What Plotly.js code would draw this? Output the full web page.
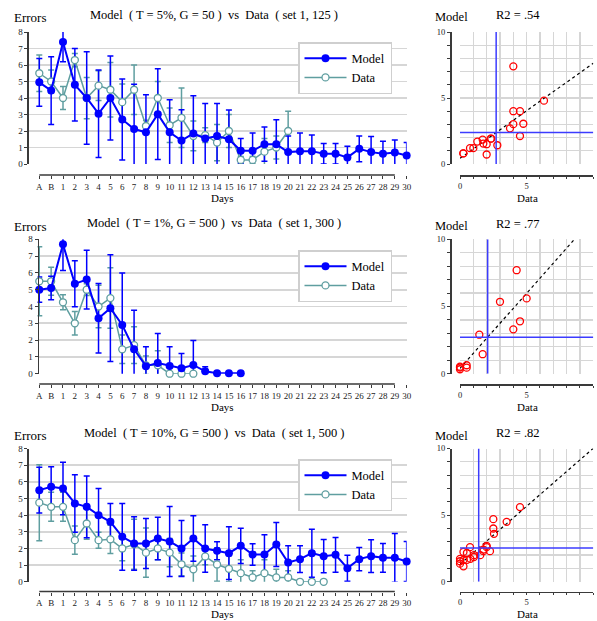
<!DOCTYPE html>
<html><head><meta charset="utf-8">
<script src="https://cdn.plot.ly/plotly-3.0.1.min.js"></script>
<style>html,body{margin:0;padding:0;background:#fff;}#chart{width:597px;height:621px;}</style>
</head><body><div id="chart"></div>
<script>
// ---------------- DATA ----------------
const days = ['A','B','1','2','3','4','5','6','7','8','9','10','11','12','13','14','15','16','17','18','19','20','21','22','23','24','25','26','27','28','29','30'];

const titles = [
  'Model\u00a0\u00a0( T = 5%, G = 50 )\u00a0\u00a0vs\u00a0\u00a0Data\u00a0\u00a0( set 1, 125 )',
  'Model\u00a0\u00a0( T = 1%, G = 500 )\u00a0\u00a0vs\u00a0\u00a0Data\u00a0\u00a0( set 1, 300 )',
  'Model\u00a0\u00a0( T = 10%, G = 500 )\u00a0\u00a0vs\u00a0\u00a0Data\u00a0\u00a0( set 1, 500 )'
];
const r2Labels = ['R2 = .54', 'R2 = .77', 'R2 = .82'];

// Panel 1
const model1    = [4.95,4.45,7.4,4.8,4.0,3.05,4.0,2.7,2.12,1.92,3.02,1.92,1.42,1.85,1.55,1.7,1.5,0.8,0.8,1.2,1.2,0.72,0.78,0.78,0.62,0.62,0.4,0.92,0.72,0.62,0.7,0.52];
const model1Err = [1.45,2.05,1.2,2.2,2.8,2.65,2.55,2.45,2.72,2.28,2.75,1.98,1.87,2.28,2.12,1.96,1.78,0.74,1.08,1.04,1.48,0.98,1.1,0.98,0.62,0.62,0.68,0.78,0.94,0.76,0.76,0.78];
const data1     = [5.5,5.0,4.0,6.3,4.0,4.75,4.5,3.75,4.5,2.3,4.0,2.35,2.8,1.7,1.75,1.3,2.0,0.25,0.25,0.75,1.0,2.0];
const data1Err  = [1.1,0.7,0.7,0.4,1.25,0.9,1.65,1.1,1.5,0.35,1.0,1.05,1.8,0.9,0.45,1.1,1.0,0.2,0.2,0.8,0.7,1.2];

// Panel 2
const model2    = [5.0,5.1,7.7,5.35,5.6,3.3,3.9,2.9,1.45,0.45,0.63,0.46,0.33,0.52,0.14,0.02,0.02,0.02];
const model2Err = [0.75,0.7,1.55,1.37,1.75,2.07,3.18,3.1,2.32,1.15,1.77,1.15,0.87,1.45,0.27,0,0,0];
const data2     = [5.5,5.5,4.25,3.0,5.0,4.0,4.5,1.45,1.7,0.5,0.5,0,0,0];
const data2Err  = [2.05,0.83,0.45,0.7,0.35,1.26,1.8,0.85,1.1,0.55,0.87,0,0,0];

// Panel 3
const model3    = [5.5,5.7,5.6,4.7,4.5,4.0,3.6,2.7,2.3,2.3,2.6,2.42,2.0,2.6,2.0,1.86,1.72,2.16,1.64,1.64,2.24,1.16,1.36,1.72,1.54,1.62,0.82,1.36,1.54,1.44,1.44,1.22];
const model3Err = [1.37,1.2,1.58,1.72,1.85,1.6,1.1,2.0,1.6,1.5,1.28,2.1,1.68,1.37,1.42,0.54,1.58,1.06,0.64,1.18,1.32,1.0,0.8,1.44,1.0,1.04,0.78,0.7,0.98,0.86,1.46,1.2];
const data3     = [4.75,4.5,4.5,2.5,3.5,2.5,2.55,2.0,2.25,1.75,2.0,1.75,1.05,0.75,1.52,1.04,0.78,0.52,0.26,0.52,0.26,0.26,0,0,0];
const data3Err  = [2.28,0.87,0.87,0.85,0.95,0.48,0.85,0.74,1.5,1.48,0.67,0.85,0.68,0.8,0.5,1.0,0.78,0.8,0.4,0.8,0.5,0.4,0,0,0];

const yTicks = [0,1,2,3,4,5,6,7,8];
const sTicks = [0,1,2,3,4,5,6,7,8,9,10];
const sTickText = ['0','','','','','5','','','','','10'];

// ---------------- STYLE / GEOMETRY ----------------
const BLUE='#0000ff', TEAL='#5f9ea0', RED='#ff0000', GRID='#d6d6d6', AXIS='#3a3a3a', MEAN='#3c3cff';
const FONT='"Liberation Serif", "Times New Roman", Times, serif';
const W=597, H=621;
const px=v=>v/W, py=v=>1-v/H;
const geo=[
  {top:32,    bottom:164,   xline:175,   yaxisX:27.45, r0:-1,    titleY:14.7, labelY:17,  sTitleY:15,  sModelY:17,  legendTop:42,  axisTitleY:197.5},
  {top:239.3, bottom:373.7, xline:384,   yaxisX:37.5,  r0:-0.15, titleY:223,  labelY:226, sTitleY:224, sModelY:226, legendTop:250, axisTitleY:406.5},
  {top:448.5, bottom:581.8, xline:591.6, yaxisX:27.45, r0:-1,    titleY:433,  labelY:435, sTitleY:433, sModelY:436, legendTop:459, axisTitleY:614}
];
const panels=[
  {model:model1, modelErr:model1Err, data:data1, dataErr:data1Err},
  {model:model2, modelErr:model2Err, data:data2, dataErr:data2Err},
  {model:model3, modelErr:model3Err, data:data3, dataErr:data3Err}
];

const mean=a=>a.reduce((s,v)=>s+v,0)/a.length;
function ols(xs,ys){
  const mx=mean(xs), my=mean(ys);
  let sxy=0,sxx=0;
  for(let i=0;i<xs.length;i++){sxy+=(xs[i]-mx)*(ys[i]-my);sxx+=(xs[i]-mx)*(xs[i]-mx);}
  const m=sxy/sxx; return {m:m,b:my-m*mx};
}

const traces=[], shapes=[], annotations=[];
const tickFont={family:FONT,size:9,color:'#222',weight:'normal'};
const sTickFont={family:FONT,size:8.5,color:'#222',weight:'normal'};
const txtFont=(s)=>({family:FONT,size:s,color:'#000',weight:'normal'});
const layout={
  width:W,height:H,margin:{l:0,r:0,t:0,b:0},
  paper_bgcolor:'#fff',plot_bgcolor:'rgba(0,0,0,0)',
  hovermode:false,showlegend:true,
  font:{family:FONT,weight:'normal'}
};

panels.forEach((p,k)=>{
  const g=geo[k];
  const ln=2*k+1, sc=2*k+2;
  const sfx=ln===1?'':String(ln);
  const xl='x'+sfx, yl='y'+sfx, xs='x'+sc, ys='y'+sc;
  const leg=k===0?'legend':'legend'+(k+1);
  const dDays=days.slice(0,p.data.length), mDays=days.slice(0,p.model.length);

  traces.push({type:'scatter',x:dDays,y:p.data,xaxis:xl,yaxis:yl,mode:'markers',marker:{size:2,opacity:0},
    error_y:{type:'data',array:p.dataErr,visible:true,color:TEAL,thickness:1.5,width:3},showlegend:false,hoverinfo:'skip'});
  traces.push({type:'scatter',x:mDays,y:p.model,xaxis:xl,yaxis:yl,mode:'markers',marker:{size:2,opacity:0},
    error_y:{type:'data',array:p.modelErr,visible:true,color:BLUE,thickness:1.5,width:3},showlegend:false,hoverinfo:'skip'});
  traces.push({type:'scatter',name:'Data',legend:leg,legendrank:2,x:dDays,y:p.data,xaxis:xl,yaxis:yl,mode:'lines+markers',
    line:{color:TEAL,width:1.5},marker:{symbol:'circle',size:7,color:'#fff',line:{color:TEAL,width:1.3}},cliponaxis:false});
  traces.push({type:'scatter',name:'Model',legend:leg,legendrank:1,x:mDays,y:p.model,xaxis:xl,yaxis:yl,mode:'lines+markers',
    line:{color:BLUE,width:2},marker:{symbol:'circle',size:8,color:BLUE},cliponaxis:false});

  // scatter: model vs data for days 1.. (excluding A, B)
  const sx=p.data.slice(2), sy=p.model.slice(2,p.data.length);
  const fit=ols(sx,sy);
  const xEnd=Math.min(10,(10-fit.b)/fit.m);
  traces.push({type:'scatter',x:[0,xEnd],y:[fit.b,fit.b+fit.m*xEnd],xaxis:xs,yaxis:ys,mode:'lines',
    line:{color:'#000',width:1.2,dash:'3px,3px'},showlegend:false,hoverinfo:'skip'});
  traces.push({type:'scatter',x:sx,y:sy,xaxis:xs,yaxis:ys,mode:'markers',
    marker:{symbol:'circle-open',size:7,color:RED,line:{width:1.3,color:RED}},showlegend:false,cliponaxis:false});
  const mx=mean(sx), my=mean(sy);
  shapes.push({type:'line',xref:xs,yref:ys,x0:mx,x1:mx,y0:0,y1:10,line:{color:MEAN,width:1.5}});
  shapes.push({type:'line',xref:xs,yref:ys,x0:0,x1:10,y0:my,y1:my,line:{color:MEAN,width:1.5}});

  // axes: line chart
  layout['xaxis'+sfx]={type:'category',categoryorder:'array',categoryarray:days,
    domain:[px(g.yaxisX),px(406.65)],range:[g.r0,31],anchor:'free',position:py(g.xline),
    showline:false,showgrid:false,zeroline:false,tickmode:'array',tickvals:days,ticktext:days,tickangle:0,
    ticks:'outside',ticklen:3,tickwidth:1,tickcolor:AXIS,tickfont:tickFont,fixedrange:true};
  layout['yaxis'+sfx]={domain:[py(g.bottom),py(g.top)],range:[0,8],anchor:'free',position:px(g.yaxisX),
    tickmode:'array',tickvals:yTicks,showline:true,linecolor:AXIS,linewidth:1.5,ticks:'outside',ticklen:3,tickcolor:AXIS,
    showgrid:true,gridcolor:GRID,gridwidth:1.6,zeroline:false,tickfont:tickFont,fixedrange:true};
  shapes.push({type:'line',xref:xl,yref:'paper',x0:days[0],x1:days[days.length-1],y0:py(g.xline),y1:py(g.xline),
    line:{color:AXIS,width:1.5}});

  // axes: scatter
  layout['xaxis'+sc]={domain:[px(460),px(593.3)],range:[0,10],anchor:'free',position:py(g.xline),
    showline:true,linecolor:AXIS,linewidth:1.5,tickmode:'array',tickvals:sTicks,ticktext:sTickText,tickangle:0,
    ticks:'outside',ticklen:2,tickcolor:AXIS,showgrid:true,gridcolor:GRID,gridwidth:1.3,zeroline:false,tickfont:sTickFont,fixedrange:true};
  layout['yaxis'+sc]={domain:[py(g.bottom),py(g.top)],range:[0,10],anchor:'free',position:px(450),
    showline:true,linecolor:AXIS,linewidth:1.5,tickmode:'array',tickvals:sTicks,ticktext:sTickText,
    ticks:'outside',ticklen:3,tickcolor:AXIS,showgrid:true,gridcolor:GRID,gridwidth:1.3,zeroline:false,tickfont:sTickFont,fixedrange:true};

  // legend
  layout[leg]={x:px(298),y:py(g.legendTop),xanchor:'left',yanchor:'top',bgcolor:'#fff',bordercolor:'#cfcfcf',borderwidth:1.5,
    font:txtFont(12.5),itemwidth:42,tracegroupgap:0};

  // texts
  annotations.push({text:titles[k],xref:'paper',yref:'paper',x:px(214),y:py(g.titleY),xanchor:'center',yanchor:'middle',showarrow:false,font:txtFont(12.5)});
  annotations.push({text:'Errors',xref:'paper',yref:'paper',x:px(12),y:py(g.labelY),xanchor:'left',yanchor:'middle',showarrow:false,font:txtFont(13)});
  annotations.push({text:'Days',xref:'paper',yref:'paper',x:px(222),y:py(g.axisTitleY),xanchor:'center',yanchor:'middle',showarrow:false,borderpad:0,font:txtFont(11)});
  annotations.push({text:'Model',xref:'paper',yref:'paper',x:px(433),y:py(g.sModelY),xanchor:'left',yanchor:'middle',showarrow:false,font:txtFont(12.5)});
  annotations.push({text:r2Labels[k],xref:'paper',yref:'paper',x:px(518),y:py(g.sTitleY),xanchor:'center',yanchor:'middle',showarrow:false,font:txtFont(12.5)});
  annotations.push({text:'Data',xref:'paper',yref:'paper',x:px(527),y:py(g.axisTitleY),xanchor:'center',yanchor:'middle',showarrow:false,borderpad:0,font:txtFont(11)});
});
layout.shapes=shapes;
layout.annotations=annotations;

Plotly.newPlot('chart',traces,layout,{displayModeBar:false,staticPlot:true});
</script>
</body></html>
